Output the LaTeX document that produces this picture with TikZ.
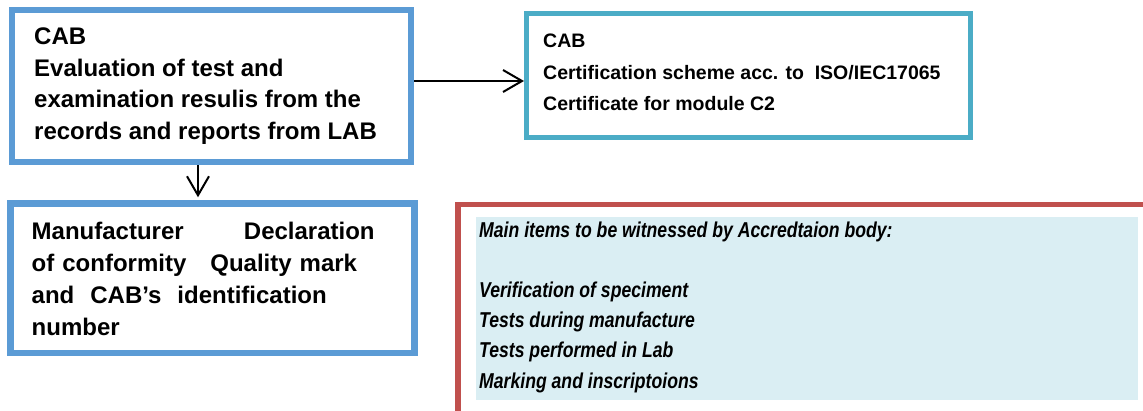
\documentclass[tikz,border=0pt]{standalone}
\usepackage{fontspec}
\setmainfont{Liberation Sans}
\newfontfamily\narrowfont[FakeStretch=0.82]{Liberation Sans}
\usetikzlibrary{arrows.meta}
\definecolor{boxblue}{RGB}{91,155,213}
\definecolor{boxteal}{RGB}{75,172,198}
\definecolor{boxred}{RGB}{192,80,77}
\definecolor{paleblue}{RGB}{218,238,243}
\begin{document}
\begin{tikzpicture}[x=1pt,y=-1pt,
  box/.style={draw, rectangle, inner sep=0pt, fill=white},
  txt/.style={anchor=north west, inner sep=0pt, align=left, font=\bfseries\fontsize{24}{31.6}\selectfont},
  arr/.style={line width=2pt, -{Straight Barb[length=19pt,width=22pt]}}]
\useasboundingbox (0,0) rectangle (1143,410);
% boxes
\node[box, draw=boxblue, line width=6pt, minimum width=399pt, minimum height=152pt] (b1) at (211.5,86) {};
\node[box, draw=boxteal, line width=5pt, minimum width=444pt, minimum height=124pt] (b2) at (748.5,75.5) {};
\node[box, draw=boxblue, line width=6.5pt, minimum width=404pt, minimum height=149.5pt] (b3) at (212.5,278.25) {};
\begin{scope}
  \clip (0,0) rectangle (1143,410);
  \node[box, draw=boxred, line width=5.5pt, minimum width=702pt, minimum height=209.5pt] (b4) at (809,309.25) {};
  \node[fill=paleblue, inner sep=0pt, minimum width=662pt, minimum height=183pt] (wit) at (807,308.5) {};
\end{scope}
% texts
\node[txt] (t1) at (34,24.3) {\rule{0pt}{20pt}CAB\\Evaluation of test and\\examination resulis from the\\records and reports from LAB};
\node[txt, font=\bfseries\fontsize{19.5}{31.2}\selectfont] (t2) at (543,30.7) {\rule{0pt}{17pt}CAB\\Certification scheme acc. to\ \ ISO/IEC17065\\Certificate for module C2};
\node[txt, text width=343pt, font=\bfseries\fontsize{24}{31.9}\selectfont] (t3) at (31.5,219.3) {\rule{0pt}{20pt}Manufacturer\hfill Declaration\\of conformity\ \ \ Quality mark\\and\ \ CAB’s\ \ identification\\number};
\node[txt, font=\narrowfont\bfseries\itshape\fontsize{21.5}{30.3}\selectfont] (t4) at (479,220.2) {\rule{0pt}{17pt}Main items to be witnessed by Accredtaion body:\\[29.5pt]Verification of speciment\\Tests during manufacture\\Tests performed in Lab\\Marking and inscriptoions};
% connectors
\coordinate (hy) at (0,81);
\coordinate (vx) at (198,0);
\draw[arr] (b1.east |- hy) -- (b2.west |- hy);
\draw[arr, shorten >=3pt] (b1.south -| vx) -- (b3.north -| vx);
\end{tikzpicture}
\end{document}
